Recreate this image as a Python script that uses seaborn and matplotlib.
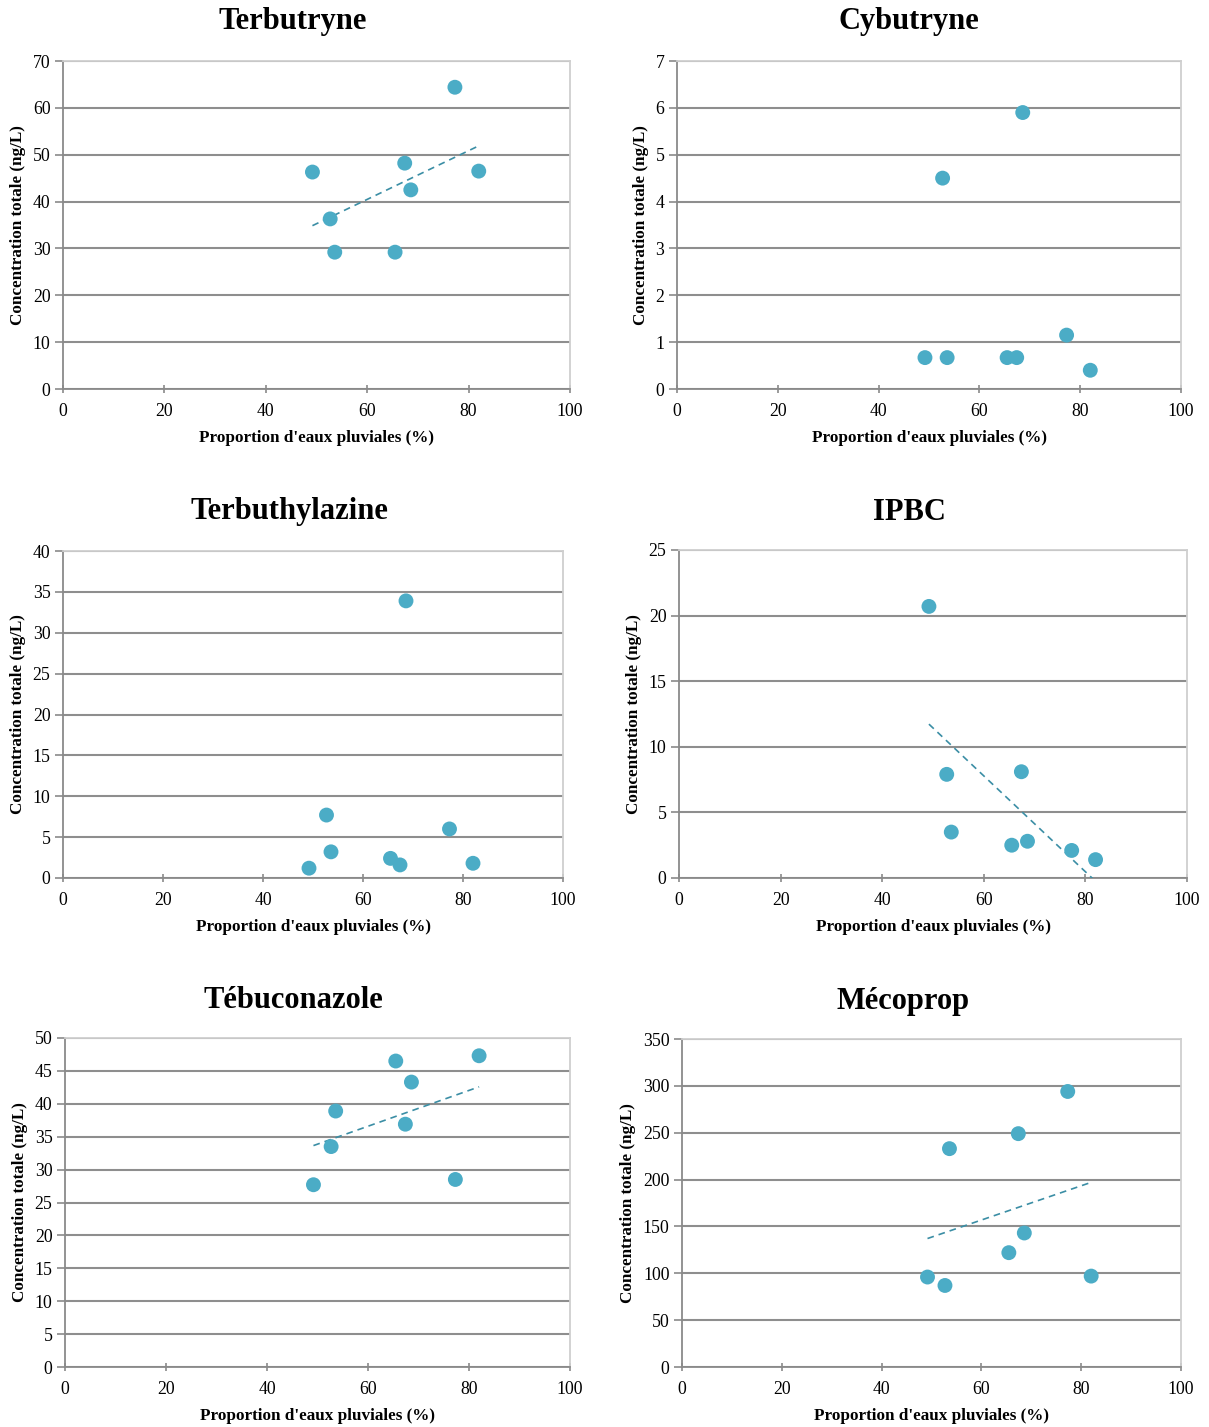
import numpy as np
import pandas as pd
import matplotlib
matplotlib.use('Agg')
import matplotlib.pyplot as plt
import seaborn as sns

sns.set_style('white')
plt.rcParams['font.family'] = ['Liberation Serif', 'DejaVu Serif']
plt.rcParams.update({'text.color': 'black', 'axes.labelcolor': 'black',
                     'xtick.color': 'black', 'ytick.color': 'black'})

# proportion of stormwater (%) for the 8 samples, shared by all panels
pluvial_pct = [49.2, 52.7, 53.6, 65.5, 67.4, 68.6, 77.3, 82.0]

terbutryne     = [46.3, 36.3, 29.2, 29.2, 48.2, 42.5, 64.4, 46.5]
cybutryne      = [0.67, 4.5, 0.67, 0.67, 0.67, 5.9, 1.15, 0.4]
terbuthylazine = [1.2, 7.7, 3.2, 2.4, 1.6, 33.9, 6.0, 1.8]
ipbc           = [20.7, 7.9, 3.5, 2.5, 8.1, 2.8, 2.1, 1.4]
tebuconazole   = [27.7, 33.5, 38.9, 46.5, 36.9, 43.3, 28.5, 47.3]
mecoprop       = [96, 87, 233, 122, 249, 143, 294, 97]

titles    = ['Terbutryne', 'Cybutryne', 'Terbuthylazine', 'IPBC', 'Tébuconazole', 'Mécoprop']
series    = [terbutryne, cybutryne, terbuthylazine, ipbc, tebuconazole, mecoprop]
y_max     = [70, 7, 40, 25, 50, 350]
y_step    = [10, 1, 5, 5, 5, 50]
has_trend = [True, False, False, True, True, True]

# axes boxes in pixels: left, top, right, bottom
BOXES = [
    (63, 61, 570, 389), (677, 61, 1181, 389),
    (63, 551, 563, 878), (679, 550, 1187, 878),
    (65, 1038, 570, 1367), (682, 1039, 1181, 1367),
]
# title centres in pixels (x, y)
TITLE_POS = [(293, 22), (909, 22), (289, 512), (909, 512), (293, 1000), (903, 1001)]

W, H = 1209, 1427
DOT = '#4bacc6'
TREND = '#3b8ea5'

fig = plt.figure(figsize=(W / 100, H / 100), dpi=100)

for i in range(6):
    l, t, r, b = BOXES[i]
    ax = fig.add_axes([l / W, 1 - b / H, (r - l) / W, (b - t) / H])
    df = pd.DataFrame({'x': pluvial_pct, 'y': series[i]})

    if has_trend[i]:
        sns.regplot(data=df, x='x', y='y', ax=ax, ci=None, scatter=False,
                    truncate=True,
                    line_kws=dict(color=TREND, lw=1.2, ls=(0, (4, 3)), zorder=4))
    sns.scatterplot(data=df, x='x', y='y', ax=ax, color=DOT, s=115,
                    edgecolor='none', zorder=5)

    ax.set_xlim(0, 100)
    ax.set_ylim(0, y_max[i])
    ax.set_xticks(np.arange(0, 101, 20))
    ax.set_yticks(np.arange(0, y_max[i] + y_step[i] / 2, y_step[i]))
    ax.yaxis.grid(True, color='#8e8e8e', lw=1.5)
    ax.xaxis.grid(False)
    ax.set_axisbelow(True)

    for side in ['left', 'bottom']:
        ax.spines[side].set_color('#8a8a8a')
        ax.spines[side].set_linewidth(1.3)
    for side in ['top', 'right']:
        ax.spines[side].set_color('#cfcfcf')
        ax.spines[side].set_linewidth(1.3)

    ax.tick_params(axis='y', which='major', direction='out', length=6, width=1.2,
                   color='#8a8a8a', labelcolor='black', labelsize=12.8, pad=3, left=True)
    ax.tick_params(axis='x', which='major', direction='inout', length=6, width=1.2,
                   color='#8a8a8a', labelcolor='black', labelsize=12.8, pad=7, bottom=True)

    ax.set_xlabel("Proportion d'eaux pluviales (%)", fontsize=12.3,
                  fontweight='bold', labelpad=7)
    ax.set_ylabel('Concentration totale (ng/L)', fontsize=12.3,
                  fontweight='bold', labelpad=5)
    tx, ty = TITLE_POS[i]
    fig.text(tx / W, 1 - ty / H, titles[i], fontsize=22, fontweight='bold',
             ha='center', va='center')

plt.savefig('out.png', dpi=100)
plt.close()
